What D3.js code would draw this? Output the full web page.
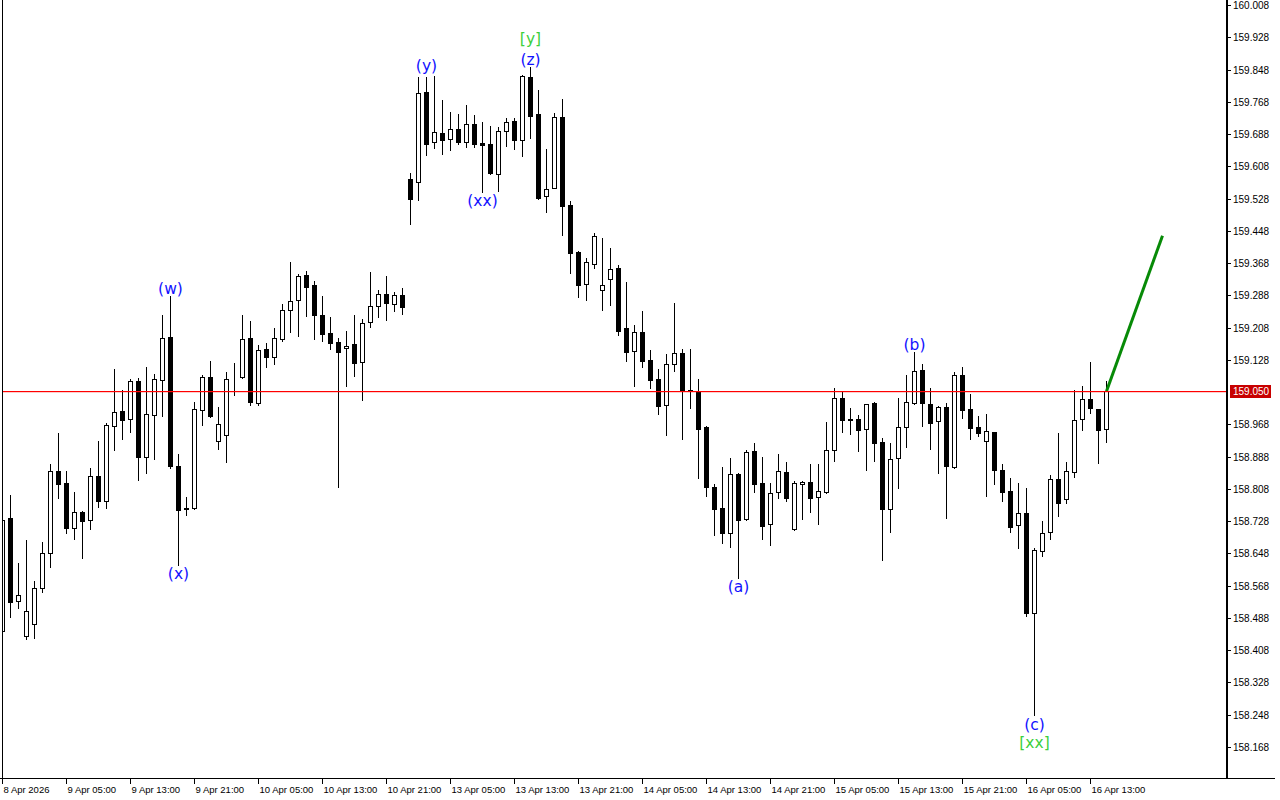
<!DOCTYPE html>
<html><head><meta charset="utf-8">
<script src="https://cdn.jsdelivr.net/npm/d3@7"></script>
<style>html,body{margin:0;padding:0;background:#fff;} svg{display:block;}</style>
</head><body><svg id="c" width="1280" height="800"></svg>
<script>
const opens = [158.456,158.736,158.530,158.443,158.473,158.562,158.649,158.852,158.823,158.711,158.751,158.731,158.840,158.778,158.964,159.001,158.981,159.076,158.887,158.991,159.078,159.185,158.865,158.758,158.761,159.004,159.085,158.927,158.942,159.083,159.085,159.182,159.021,159.155,159.135,159.180,159.252,159.276,159.338,159.314,159.239,159.195,159.172,159.157,159.167,159.123,159.222,159.262,159.291,159.266,159.289,159.576,159.569,159.792,159.668,159.690,159.676,159.700,159.668,159.713,159.666,159.663,159.589,159.696,159.720,159.673,159.829,159.738,159.534,159.554,159.730,159.512,159.395,159.316,159.366,159.301,159.328,159.356,159.207,159.150,159.197,159.128,159.080,159.016,159.118,159.145,159.053,159.052,158.961,158.813,158.761,158.699,158.845,158.733,158.902,158.823,158.721,158.800,158.850,158.708,158.820,158.825,158.788,158.800,158.904,159.033,158.981,158.981,158.956,159.021,158.924,158.758,158.885,158.961,159.021,159.103,159.018,158.976,159.011,158.862,159.090,159.006,158.961,158.927,158.949,158.855,158.803,158.718,158.748,158.500,158.654,158.701,158.833,158.783,158.850,158.981,159.031,159.006,158.956];
const highs = [158.736,158.793,158.624,158.681,158.580,158.676,158.870,158.947,158.852,158.800,158.752,158.860,158.927,158.971,159.105,159.053,159.080,159.083,159.110,159.093,159.239,159.286,158.894,158.788,159.023,159.090,159.125,159.011,159.098,159.120,159.239,159.224,159.165,159.170,159.207,159.266,159.371,159.341,159.348,159.324,159.286,159.234,159.182,159.200,159.239,159.229,159.346,159.301,159.336,159.296,159.306,159.591,159.829,159.829,159.832,159.772,159.743,159.738,159.760,159.735,159.718,159.708,159.705,159.728,159.728,159.834,159.854,159.797,159.651,159.740,159.775,159.522,159.398,159.381,159.443,159.430,159.405,159.363,159.321,159.214,159.249,159.152,159.105,159.142,159.269,159.155,159.155,159.080,158.964,158.820,158.862,158.885,158.847,158.904,158.922,158.887,158.823,158.894,158.875,158.828,158.828,158.870,158.870,158.974,159.058,159.048,159.009,158.991,159.019,159.023,158.934,158.922,159.033,159.090,159.147,159.118,159.058,159.014,159.021,159.098,159.110,159.043,158.989,158.994,158.950,158.870,158.835,158.823,158.810,158.661,158.728,158.842,158.947,158.875,159.053,159.063,159.123,159.007,159.076];
const lows = [158.451,158.490,158.513,158.436,158.438,158.552,158.614,158.785,158.699,158.684,158.637,158.708,158.763,158.761,158.904,158.932,158.949,158.830,158.847,158.882,158.989,158.860,158.619,158.743,158.758,158.966,158.986,158.907,158.875,159.041,159.083,159.016,159.016,159.110,159.118,159.175,159.197,159.187,159.237,159.180,159.175,159.155,158.813,159.063,159.088,159.028,159.210,159.234,159.227,159.249,159.242,159.465,159.524,159.636,159.653,159.638,159.648,159.663,159.656,159.656,159.544,159.590,159.547,159.658,159.651,159.634,159.678,159.528,159.495,159.553,159.438,159.343,159.284,159.276,159.356,159.252,159.264,159.190,159.125,159.063,159.110,159.058,158.994,158.942,159.100,158.932,159.009,158.835,158.790,158.694,158.674,158.664,158.587,158.732,158.800,158.684,158.669,158.785,158.778,158.707,158.733,158.751,158.721,158.799,158.877,158.949,158.944,158.902,158.855,158.877,158.632,158.701,158.810,158.912,159.018,158.964,158.907,158.847,158.736,158.861,158.984,158.932,158.939,158.790,158.820,158.778,158.701,158.661,158.493,158.247,158.642,158.684,158.741,158.773,158.838,158.954,158.996,158.872,158.924];
const closes = [158.731,158.527,158.545,158.505,158.562,158.649,158.852,158.820,158.711,158.751,158.728,158.840,158.778,158.966,158.999,158.979,159.076,158.887,158.994,159.080,159.182,158.865,158.756,158.761,159.006,159.085,158.989,158.969,159.080,159.084,159.180,159.023,159.152,159.135,159.182,159.252,159.274,159.336,159.309,159.239,159.192,159.170,159.147,159.162,159.120,159.219,159.262,159.291,159.269,159.289,159.259,159.527,159.790,159.663,159.693,159.673,159.700,159.668,159.713,159.663,159.661,159.591,159.696,159.718,159.673,159.832,159.733,159.529,159.552,159.730,159.510,159.393,159.314,159.371,159.435,159.314,159.353,159.200,159.147,159.197,159.125,159.078,159.014,159.118,159.145,159.053,159.052,158.956,158.813,158.758,158.699,158.845,158.731,158.899,158.820,158.716,158.798,158.852,158.785,158.823,158.825,158.785,158.803,158.904,159.033,158.979,158.979,158.954,159.018,158.922,158.758,158.882,158.961,159.023,159.100,159.021,158.971,159.011,158.865,159.090,159.004,158.959,158.947,158.952,158.855,158.800,158.713,158.748,158.500,158.656,158.699,158.833,158.773,158.852,158.979,159.031,159.009,158.954,159.050];
const timeLabels = ["8 Apr 2026","9 Apr 05:00","9 Apr 13:00","9 Apr 21:00","10 Apr 05:00","10 Apr 13:00","10 Apr 21:00","13 Apr 05:00","13 Apr 13:00","13 Apr 21:00","14 Apr 05:00","14 Apr 13:00","14 Apr 21:00","15 Apr 05:00","15 Apr 13:00","15 Apr 21:00","16 Apr 05:00","16 Apr 13:00"];
const barsPerLabel = 8;
const priceTicks = [160.008,159.928,159.848,159.768,159.688,159.608,159.528,159.448,159.368,159.288,159.208,159.128,158.968,158.888,158.808,158.728,158.648,158.568,158.488,158.408,158.328,158.248,158.168];
const currentPrice = 159.050;
const projectionBars = [138, 145];
const projectionPrices = [159.050, 159.436];
const waveText = ["(w)","(x)","(y)","[y]","(z)","(xx)","(a)","(b)","(c)","[xx]"];
const waveBar = [21,22,53,66,66,60,92,114,129,129];
const wavePrice = [159.306,158.599,159.859,159.924,159.874,159.522,158.565,159.167,158.225,158.178];
const waveDegree = ["minor","minor","minor","major","minor","minor","minor","minor","minor","major"];

const svg = d3.select("#c");
const W = 1280, H = 800;
const plotL = 2, plotR = 1226, plotT = 0, plotB = 778;
const x = d3.scaleLinear().domain([0, 138]).range([2.5, 1106.5]);
const y = d3.scaleLinear().domain([158.168, 160.008]).range([747, 5]);

svg.append("rect").attr("width", W).attr("height", H).attr("fill", "#fff");
svg.append("defs").append("clipPath").attr("id", "pc")
  .append("rect").attr("x", plotL + 0.5).attr("y", plotT).attr("width", plotR - plotL).attr("height", plotB - plotT);

const g = svg.append("g").attr("clip-path", "url(#pc)");

const idx = d3.range(opens.length);
// wicks
g.selectAll("line.w").data(idx).join("line").attr("class", "w")
  .attr("x1", i => x(i)).attr("x2", i => x(i))
  .attr("y1", i => Math.round(y(highs[i]))).attr("y2", i => Math.round(y(lows[i])) + 1)
  .attr("stroke", "#000").attr("stroke-width", 1);
// bodies
g.selectAll("rect.b").data(idx).join("rect").attr("class", "b")
  .attr("x", i => x(i) - 2)
  .attr("y", i => Math.round(y(Math.max(opens[i], closes[i]))) + 0.5)
  .attr("width", 4)
  .attr("height", i => Math.max(0, Math.round(y(Math.min(opens[i], closes[i]))) - Math.round(y(Math.max(opens[i], closes[i])))))
  .attr("fill", i => closes[i] >= opens[i] ? "#fff" : "#000")
  .attr("stroke", "#000").attr("stroke-width", 1).attr("shape-rendering", "crispEdges");

// current price line (drawn over candles)
const cy = Math.round(y(currentPrice));
svg.append("rect").attr("x", plotL + 1).attr("y", cy).attr("width", plotR - plotL - 1).attr("height", 1.2)
  .attr("fill", "#ff0000");

// projection line
g.append("line")
  .attr("x1", x(projectionBars[0])).attr("y1", y(projectionPrices[0]))
  .attr("x2", x(projectionBars[1])).attr("y2", y(projectionPrices[1]))
  .attr("stroke", "#078a07").attr("stroke-width", 3);

// wave labels
g.selectAll("text.wv").data(waveText).join("text").attr("class", "wv")
  .attr("x", (d, i) => x(waveBar[i]))
  .attr("y", (d, i) => y(wavePrice[i]) + 5.5)
  .attr("text-anchor", "middle")
  .attr("font-family", "DejaVu Sans, sans-serif").attr("font-size", 15.5)
  .attr("fill", (d, i) => waveDegree[i] === "major" ? "#3ccf3c" : "#1212ff")
  .text(d => d);

// frame
svg.append("line").attr("x1", plotL + 0.5).attr("x2", plotL + 0.5).attr("y1", 0).attr("y2", plotB).attr("stroke", "#000");
svg.append("line").attr("x1", 0).attr("x2", 1275).attr("y1", plotB + 0.5).attr("y2", plotB + 0.5).attr("stroke", "#000");
svg.append("line").attr("x1", plotR + 1).attr("x2", plotR + 1).attr("y1", 0).attr("y2", plotB + 1).attr("stroke", "#000").attr("stroke-width", 2);

// y ticks and labels
const ya = svg.append("g");
ya.selectAll("line").data(priceTicks).join("line")
  .attr("x1", plotR + 1).attr("x2", plotR + 5)
  .attr("y1", d => Math.round(y(d)) + 0.5).attr("y2", d => Math.round(y(d)) + 0.5)
  .attr("stroke", "#000");
ya.selectAll("text").data(priceTicks).join("text")
  .attr("x", plotR + 7).attr("y", d => Math.round(y(d)) + 4)
  .attr("font-family", "Liberation Sans, Arial, sans-serif").attr("font-size", 10)
  .attr("fill", "#000").text(d => d.toFixed(3));

// current price label
svg.append("rect").attr("x", plotR + 4).attr("y", cy - 6).attr("width", 41).attr("height", 13).attr("fill", "#c80000");
svg.append("text").attr("x", plotR + 7).attr("y", cy + 4)
  .attr("font-family", "Liberation Sans, Arial, sans-serif").attr("font-size", 10)
  .attr("fill", "#fff").text(currentPrice.toFixed(3));

// x ticks and labels
const xa = svg.append("g");
xa.selectAll("line").data(timeLabels).join("line")
  .attr("x1", (d, k) => x(k * barsPerLabel)).attr("x2", (d, k) => x(k * barsPerLabel))
  .attr("y1", plotB).attr("y2", plotB + 6).attr("stroke", "#000");
xa.selectAll("text").data(timeLabels).join("text")
  .attr("x", (d, k) => x(k * barsPerLabel) + 1).attr("y", plotB + 15)
  .attr("font-family", "Liberation Sans, Arial, sans-serif").attr("font-size", 9.5)
  .attr("fill", "#000").text(d => d);
</script></body></html>
